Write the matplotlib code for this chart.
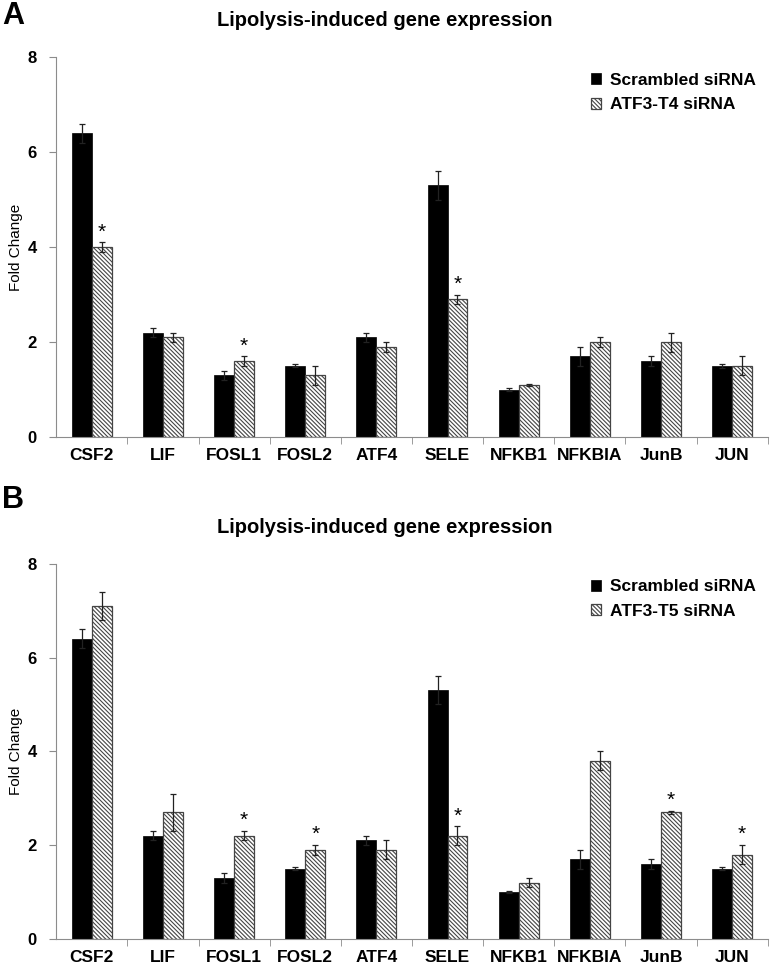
import numpy as np
import matplotlib
matplotlib.use('Agg')
import matplotlib.pyplot as plt
from matplotlib.ticker import FixedLocator

plt.rcParams['font.family'] = 'Liberation Sans'
plt.rcParams['hatch.linewidth'] = 0.8

# data
genes = ['CSF2', 'LIF', 'FOSL1', 'FOSL2', 'ATF4', 'SELE', 'NFKB1', 'NFKBIA', 'JunB', 'JUN']

scr_mean = [6.4, 2.2, 1.3, 1.5, 2.1, 5.3, 1.0, 1.7, 1.6, 1.5]
scr_err = [0.2, 0.1, 0.1, 0.03, 0.1, 0.3, 0.03, 0.2, 0.1, 0.04]

t4_mean = [4.0, 2.1, 1.6, 1.3, 1.9, 2.9, 1.1, 2.0, 2.0, 1.5]
t4_err = [0.1, 0.1, 0.1, 0.2, 0.1, 0.1, 0.02, 0.1, 0.2, 0.2]
t4_sig = [True, False, True, False, False, True, False, False, False, False]

t5_mean = [7.1, 2.7, 2.2, 1.9, 1.9, 2.2, 1.2, 3.8, 2.7, 1.8]
t5_err = [0.3, 0.4, 0.1, 0.1, 0.2, 0.2, 0.1, 0.2, 0.03, 0.2]
t5_sig = [False, False, True, True, False, True, False, False, True, True]

panels = [
    ('A', 'ATF3-T4 siRNA', t4_mean, t4_err, t4_sig),
    ('B', 'ATF3-T5 siRNA', t5_mean, t5_err, t5_sig),
]

fig = plt.figure(figsize=(7.7, 9.67), dpi=100)
axes_pos = [[0.073, 0.548, 0.924, 0.393], [0.073, 0.029, 0.924, 0.388]]
letter_y = [0.983, 0.483]
title_y = [0.979, 0.454]

x = np.arange(len(genes))
w = 0.28
grey = '#8c8c8c'

for i, (letter, lab, mean, err, sig) in enumerate(panels):
    ax = fig.add_axes(axes_pos[i])
    ax.bar(x - w / 2, scr_mean, w, color='black', edgecolor='black', linewidth=0.5,
           label='Scrambled siRNA')
    ax.bar(x + w / 2, mean, w, color='white', edgecolor='#444444',
           hatch='\\\\\\\\\\\\\\\\', linewidth=0.9, label=lab)
    ax.errorbar(x - w / 2, scr_mean, yerr=scr_err, fmt='none', ecolor='#222222',
                elinewidth=0.9, capsize=2, capthick=0.9)
    ax.errorbar(x + w / 2, mean, yerr=err, fmt='none', ecolor='#222222',
                elinewidth=0.9, capsize=2, capthick=0.9)
    for j in range(len(genes)):
        if sig[j]:
            ax.text(x[j] + w / 2, mean[j] + err[j] + 0.02, '*', ha='center', va='bottom',
                    fontsize=15)

    ax.set_xlim(-0.5, len(genes) - 0.5)
    ax.set_ylim(0, 8)
    ax.set_yticks([0, 2, 4, 6, 8])
    ax.set_yticklabels(['0', '2', '4', '6', '8'], fontweight='bold', fontsize=12)
    ax.set_xticks(x)
    ax.set_xticklabels(genes, fontweight='bold', fontsize=12.5)
    ax.tick_params(axis='x', which='major', length=0, pad=8)
    ax.xaxis.set_minor_locator(FixedLocator(np.arange(0.5, len(genes), 1.0)))
    ax.tick_params(axis='x', which='minor', length=5, color=grey, direction='out')
    ax.tick_params(axis='y', length=5, color=grey, direction='out', pad=9)
    ax.spines['top'].set_visible(False)
    ax.spines['right'].set_visible(False)
    ax.spines['left'].set_color(grey)
    ax.spines['bottom'].set_color(grey)
    ax.set_ylabel('Fold Change', fontsize=11, labelpad=3)

    ax.legend(loc='upper right', bbox_to_anchor=(1.005, 1.0), frameon=False,
              prop={'weight': 'bold', 'size': 12.5}, handlelength=0.6,
              handleheight=0.6, handletextpad=0.5, labelspacing=0.55)

    fig.text(0.5, title_y[i], 'Lipolysis-induced gene expression', ha='center',
             va='center', fontsize=14.5, fontweight='bold')
    fig.text(0.003, letter_y[i], letter, ha='left', va='center', fontsize=22,
             fontweight='bold')

fig.savefig('out.png', dpi=100)
